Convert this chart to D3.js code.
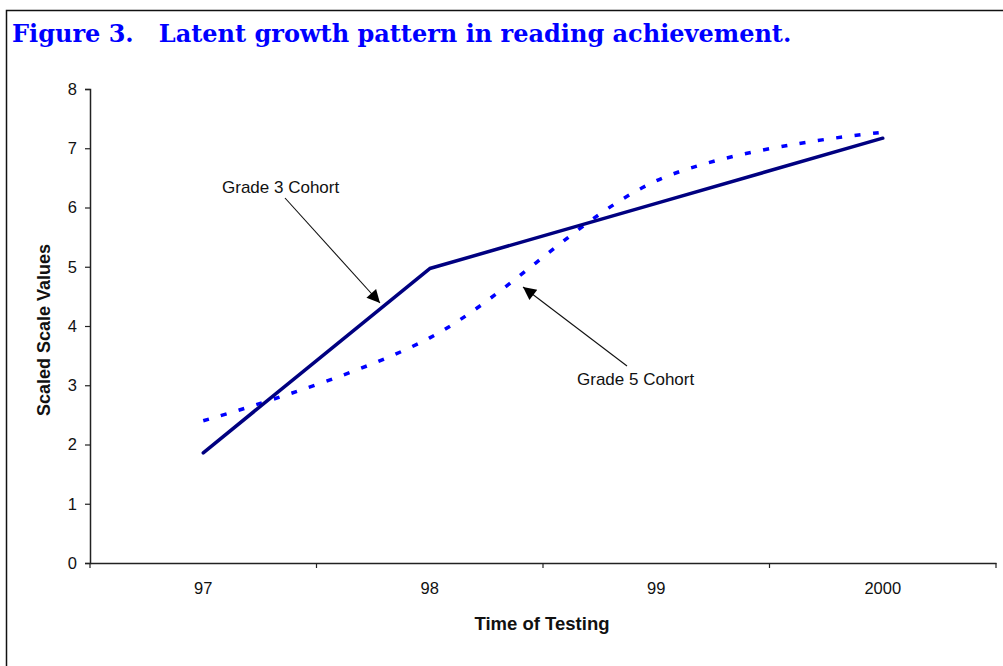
<!DOCTYPE html>
<html>
<head>
<meta charset="utf-8">
<script src="https://cdn.jsdelivr.net/npm/d3@7"></script>
<style>
  body { margin: 0; background: #fff; }
  svg { display: block; }
</style>
</head>
<body>
<svg id="canvas"></svg>
<script>
// Chart data
const years = ["97", "98", "99", "2000"];
const grade3 = [1.86, 4.97, 6.07, 7.17];   // solid navy line
const grade5 = [2.40, 3.80, 6.45, 7.27];   // dotted blue smoothed line
const yTicks = [0, 1, 2, 3, 4, 5, 6, 7, 8];

const svgWidth = 1003;
const svgHeight = 666;

const canvas = d3.select("#canvas")
                 .attr("width", svgWidth)
                 .attr("height", svgHeight);

// Frame (only left and top edges visible in the scan)
canvas.append("path")
      .attr("d", "M6.5,666 V10.5 H1003")
      .attr("fill", "none")
      .attr("stroke", "#111")
      .attr("stroke-width", 1.5);

// Title
canvas.append("text")
      .attr("x", 12)
      .attr("y", 42)
      .attr("font-family", "'DejaVu Serif', serif")
      .attr("font-weight", "bold")
      .attr("font-size", 24)
      .attr("fill", "#0000ff")
      .attr("xml:space", "preserve")
      .style("white-space", "pre")
      .text("Figure 3.   Latent growth pattern in reading achievement.");

// Scales
const x = d3.scaleBand()
            .domain(years)
            .range([90, 996])
            .padding(0);
const xc = (d) => x(d) + x.bandwidth() / 2;

const y = d3.scaleLinear()
            .domain([0, 8])
            .range([563, 89]);

const axisFont = "Arial, 'Liberation Sans', sans-serif";

// Y axis
const gy = canvas.append("g")
                 .attr("transform", "translate(90,0)")
                 .call(d3.axisLeft(y).tickValues(yTicks).tickSize(5).tickPadding(8));
gy.select(".domain").attr("stroke", "#222").attr("stroke-width", 1.5);
gy.selectAll(".tick line").attr("stroke", "#222").attr("stroke-width", 1.2);
gy.selectAll(".tick text")
  .attr("font-family", axisFont)
  .attr("font-size", 16.5)
  .attr("fill", "#111");

// X axis: labels centred in each band, tick marks on band edges
const gx = canvas.append("g")
                 .attr("transform", "translate(0,563)")
                 .call(d3.axisBottom(x).tickSize(0).tickPadding(19).tickSizeOuter(0));
gx.select(".domain").attr("stroke", "#222").attr("stroke-width", 1.5);
gx.selectAll(".tick text")
  .attr("font-family", axisFont)
  .attr("font-size", 16.5)
  .attr("fill", "#111");

const edges = years.map((d) => x(d)).concat([x.range()[1]]);
gx.selectAll(".edge")
  .data(edges)
  .enter()
  .append("line")
  .attr("class", "edge")
  .attr("x1", (d) => d)
  .attr("x2", (d) => d)
  .attr("y1", 0)
  .attr("y2", 5)
  .attr("stroke", "#222")
  .attr("stroke-width", 1.2);

// Axis titles
canvas.append("text")
      .attr("x", 542)
      .attr("y", 630)
      .attr("text-anchor", "middle")
      .attr("font-family", axisFont)
      .attr("font-weight", "bold")
      .attr("font-size", 18.5)
      .attr("fill", "#111")
      .text("Time of Testing");

canvas.append("text")
      .attr("transform", "translate(50,330) rotate(-90)")
      .attr("text-anchor", "middle")
      .attr("font-family", axisFont)
      .attr("font-weight", "bold")
      .attr("font-size", 18)
      .attr("fill", "#111")
      .text("Scaled Scale Values");

// Lines
const straight = d3.line()
                   .x((d, i) => xc(years[i]))
                   .y((d) => y(d));
const smooth = d3.line()
                 .x((d, i) => xc(years[i]))
                 .y((d) => y(d))
                 .curve(d3.curveCatmullRom.alpha(0));

canvas.append("path")
      .datum(grade5)
      .attr("d", smooth)
      .attr("fill", "none")
      .attr("stroke", "#0000ff")
      .attr("stroke-width", 3.5)
      .attr("stroke-dasharray", "6,12.5");

canvas.append("path")
      .datum(grade3)
      .attr("d", straight)
      .attr("fill", "none")
      .attr("stroke", "#000080")
      .attr("stroke-width", 3.5)
      .attr("stroke-linejoin", "round")
      .attr("stroke-linecap", "round");

// Annotations with arrows
const defs = canvas.append("defs");
defs.append("marker")
    .attr("id", "arrow")
    .attr("viewBox", "0 0 10 10")
    .attr("refX", 10)
    .attr("refY", 5)
    .attr("markerWidth", 16)
    .attr("markerHeight", 13)
    .attr("markerUnits", "userSpaceOnUse")
    .attr("orient", "auto")
    .append("path")
    .attr("d", "M0,0 L10,5 L0,10 Z")
    .attr("fill", "#000");

const notes = [
  { text: "Grade 3 Cohort", tx: 222, ty: 193, x1: 285, y1: 198, x2: 380, y2: 303 },
  { text: "Grade 5 Cohort", tx: 577, ty: 385, x1: 627, y1: 366, x2: 523, y2: 287 }
];

notes.forEach((n) => {
  canvas.append("line")
        .attr("x1", n.x1).attr("y1", n.y1)
        .attr("x2", n.x2).attr("y2", n.y2)
        .attr("stroke", "#111")
        .attr("stroke-width", 1.1)
        .attr("marker-end", "url(#arrow)");
  canvas.append("text")
        .attr("x", n.tx)
        .attr("y", n.ty)
        .attr("font-family", axisFont)
        .attr("font-size", 17)
        .attr("fill", "#111")
        .text(n.text);
});
</script>
</body>
</html>
